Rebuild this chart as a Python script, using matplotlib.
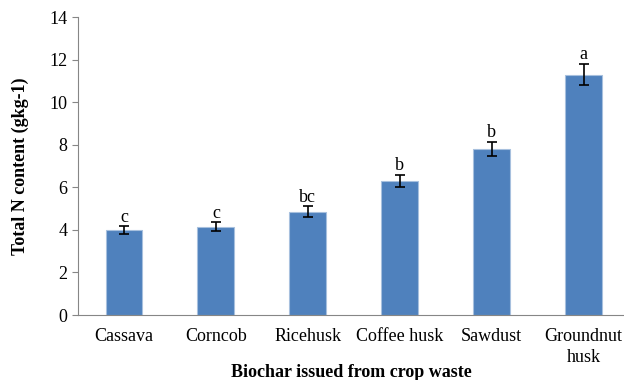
import matplotlib.pyplot as plt

plt.rcParams['font.family'] = ['Liberation Serif', 'DejaVu Serif']

crops = ['Cassava', 'Corncob', 'Ricehusk', 'Coffee husk', 'Sawdust', 'Groundnut\nhusk']
total_n = [4.0, 4.15, 4.85, 6.3, 7.8, 11.3]
errors = [0.18, 0.2, 0.25, 0.3, 0.35, 0.5]
letters = ['c', 'c', 'bc', 'b', 'b', 'a']

fs = 13

fig = plt.figure(figsize=(6.24, 3.8), dpi=100)
ax = fig.add_axes([0.125, 0.171, 0.875, 0.784])

x = range(len(crops))
ax.bar(x, total_n, width=0.4, color='#4F81BD', edgecolor='#A7C0DE', linewidth=0.8,
       yerr=errors, error_kw=dict(ecolor='black', elinewidth=1.2, capsize=3.5, capthick=1.2))

# significance letters above the error bars
for i, (v, e, s) in enumerate(zip(total_n, errors, letters)):
    ax.text(i, v + e + 0.02, s, ha='center', va='bottom', fontsize=fs)

ax.set_xlim(-0.5, 5.44)
ax.set_ylim(0, 14)
ax.set_yticks(range(0, 15, 2))
ax.set_xticks(list(x))
ax.set_xticklabels(crops, fontsize=fs, linespacing=1.35)
ax.tick_params(axis='y', labelsize=fs, color='#868686', length=4)
ax.tick_params(axis='x', length=0, pad=9)

for side in ['top', 'right']:
    ax.spines[side].set_visible(False)
for side in ['left', 'bottom']:
    ax.spines[side].set_color('#868686')

ax.set_ylabel('Total N content (gkg-1)', fontsize=fs, fontweight='bold')
ax.yaxis.set_label_coords(-0.09, 0.5)
ax.set_xlabel('Biochar issued from crop waste', fontsize=fs, fontweight='bold', va='top')
ax.xaxis.set_label_coords(0.5, -0.165)

fig.savefig('out.png', dpi=100)
